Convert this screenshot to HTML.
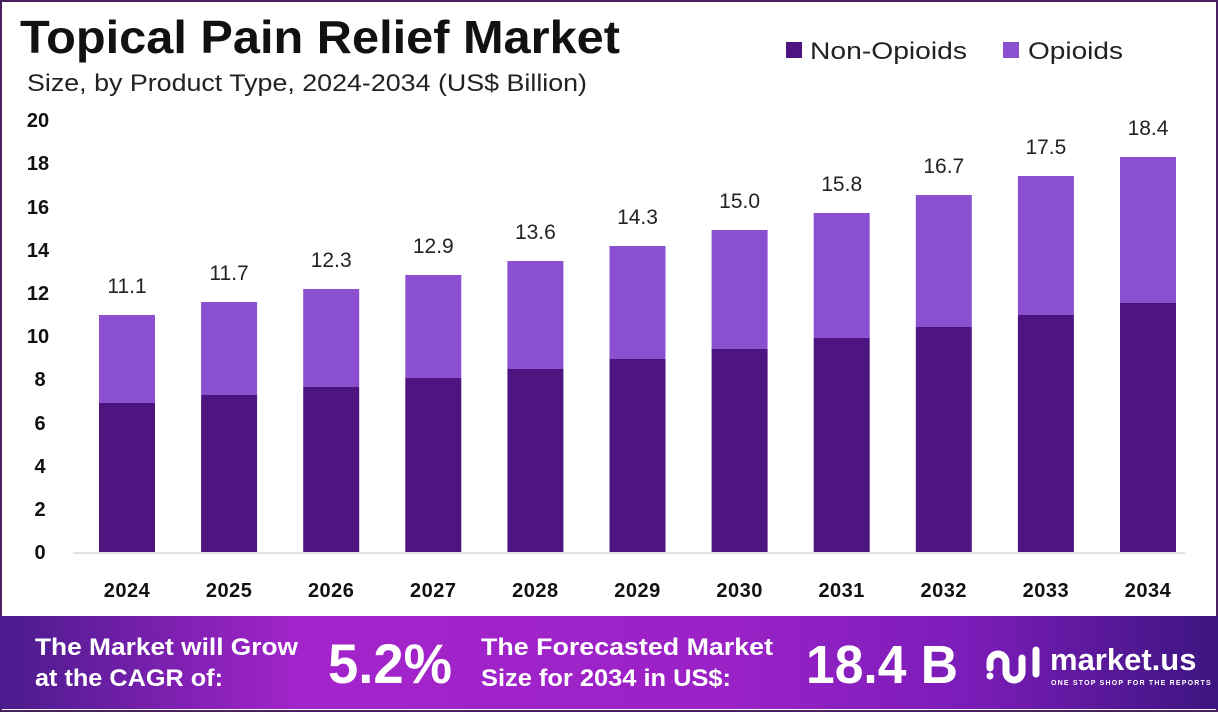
<!DOCTYPE html>
<html><head><meta charset="utf-8"><style>
html,body{margin:0;padding:0;background:#fff}
svg{display:block}
</style></head><body>
<svg width="1218" height="712" xmlns="http://www.w3.org/2000/svg" font-family="Liberation Sans, sans-serif">
<defs>
<linearGradient id="bg" x1="0" x2="1" y1="0" y2="0">
<stop offset="0" stop-color="#4a1b8c"/>
<stop offset="0.25" stop-color="#a424cc"/>
<stop offset="0.6" stop-color="#9a22c6"/>
<stop offset="0.8" stop-color="#7a1cb8"/>
<stop offset="1" stop-color="#3d1580"/>
</linearGradient>
</defs>
<rect x="0" y="0" width="1218" height="712" fill="#fff"/>
<rect x="1" y="1" width="1216" height="710" fill="none" stroke="#4a2060" stroke-width="2"/>
<text x="20" y="53" font-size="46" font-weight="bold" fill="#111" textLength="600" lengthAdjust="spacingAndGlyphs">Topical Pain Relief Market</text>
<text x="27" y="91" font-size="24" fill="#222" textLength="560" lengthAdjust="spacingAndGlyphs">Size, by Product Type, 2024-2034 (US$ Billion)</text>
<rect x="786" y="42" width="16" height="16" fill="#4e1580"/>
<text x="810" y="59" font-size="24" fill="#222" textLength="157" lengthAdjust="spacingAndGlyphs">Non-Opioids</text>
<rect x="1003" y="42" width="16" height="16" fill="#8b50d0"/>
<text x="1028" y="59" font-size="24" fill="#222" textLength="95" lengthAdjust="spacingAndGlyphs">Opioids</text>
<g font-size="20" font-weight="bold" fill="#111" text-anchor="middle">
<text x="38" y="127">20</text><text x="38" y="170">18</text><text x="38" y="214">16</text>
<text x="38" y="257">14</text><text x="38" y="300">12</text><text x="38" y="343">10</text>
<text x="40" y="386">8</text><text x="40" y="430">6</text><text x="40" y="473">4</text>
<text x="40" y="516">2</text><text x="40" y="559">0</text>
</g>
<line x1="73" y1="553" x2="1185" y2="553" stroke="#d8d8d8" stroke-width="1.5"/>
<g>
<rect x="99" y="315" width="56" height="88" fill="#8b50d0"/><rect x="99" y="403" width="56" height="149" fill="#4e1580"/>
<rect x="201.1" y="302" width="56" height="93" fill="#8b50d0"/><rect x="201.1" y="395" width="56" height="157" fill="#4e1580"/>
<rect x="303.2" y="289" width="56" height="98" fill="#8b50d0"/><rect x="303.2" y="387" width="56" height="165" fill="#4e1580"/>
<rect x="405.3" y="275" width="56" height="103" fill="#8b50d0"/><rect x="405.3" y="378" width="56" height="174" fill="#4e1580"/>
<rect x="507.4" y="261" width="56" height="108" fill="#8b50d0"/><rect x="507.4" y="369" width="56" height="183" fill="#4e1580"/>
<rect x="609.5" y="246" width="56" height="113" fill="#8b50d0"/><rect x="609.5" y="359" width="56" height="193" fill="#4e1580"/>
<rect x="711.6" y="230" width="56" height="119" fill="#8b50d0"/><rect x="711.6" y="349" width="56" height="203" fill="#4e1580"/>
<rect x="813.7" y="213" width="56" height="125" fill="#8b50d0"/><rect x="813.7" y="338" width="56" height="214" fill="#4e1580"/>
<rect x="915.8" y="195" width="56" height="132" fill="#8b50d0"/><rect x="915.8" y="327" width="56" height="225" fill="#4e1580"/>
<rect x="1017.9" y="176" width="56" height="139" fill="#8b50d0"/><rect x="1017.9" y="315" width="56" height="237" fill="#4e1580"/>
<rect x="1120" y="157" width="56" height="146" fill="#8b50d0"/><rect x="1120" y="303" width="56" height="249" fill="#4e1580"/>
</g>
<g font-size="21" fill="#222" text-anchor="middle">
<text x="127" y="293">11.1</text><text x="229.1" y="280">11.7</text><text x="331.2" y="267">12.3</text>
<text x="433.3" y="253">12.9</text><text x="535.4" y="239">13.6</text><text x="637.5" y="224">14.3</text>
<text x="739.6" y="208">15.0</text><text x="841.7" y="191">15.8</text><text x="943.8" y="173">16.7</text>
<text x="1045.9" y="154">17.5</text><text x="1148" y="135">18.4</text>
</g>
<g font-size="20" font-weight="bold" fill="#111" text-anchor="middle" letter-spacing="0.5">
<text x="127" y="597">2024</text><text x="229.1" y="597">2025</text><text x="331.2" y="597">2026</text>
<text x="433.3" y="597">2027</text><text x="535.4" y="597">2028</text><text x="637.5" y="597">2029</text>
<text x="739.6" y="597">2030</text><text x="841.7" y="597">2031</text><text x="943.8" y="597">2032</text>
<text x="1045.9" y="597">2033</text><text x="1148" y="597">2034</text>
</g>
<rect x="0" y="616" width="1218" height="93" fill="url(#bg)"/>
<g fill="#fff" font-weight="bold">
<text x="35" y="655" font-size="24" textLength="263" lengthAdjust="spacingAndGlyphs">The Market will Grow</text>
<text x="35" y="686" font-size="24" textLength="188" lengthAdjust="spacingAndGlyphs">at the CAGR of:</text>
<text x="328" y="683" font-size="56" textLength="124" lengthAdjust="spacingAndGlyphs">5.2%</text>
<text x="481" y="655" font-size="24" textLength="292" lengthAdjust="spacingAndGlyphs">The Forecasted Market</text>
<text x="481" y="686" font-size="24" textLength="250" lengthAdjust="spacingAndGlyphs">Size for 2034 in US$:</text>
<text x="806" y="683" font-size="54" textLength="152" lengthAdjust="spacingAndGlyphs">18.4 B</text>
<text x="1050" y="670" font-size="31">market.us</text>
<text x="1051" y="685" font-size="7" letter-spacing="1.2">ONE STOP SHOP FOR THE REPORTS</text>
</g>
<g fill="none" stroke="#fff" stroke-width="7" stroke-linecap="round">
<path d="M990 668 v-6 a8 8 0 0 1 16 0 v10 a8 8 0 0 0 16 0 v-14"/>
<path d="M1036 650 v24"/>
</g>
<circle cx="990" cy="676" r="3.5" fill="#fff"/>
</svg>
</body></html>
